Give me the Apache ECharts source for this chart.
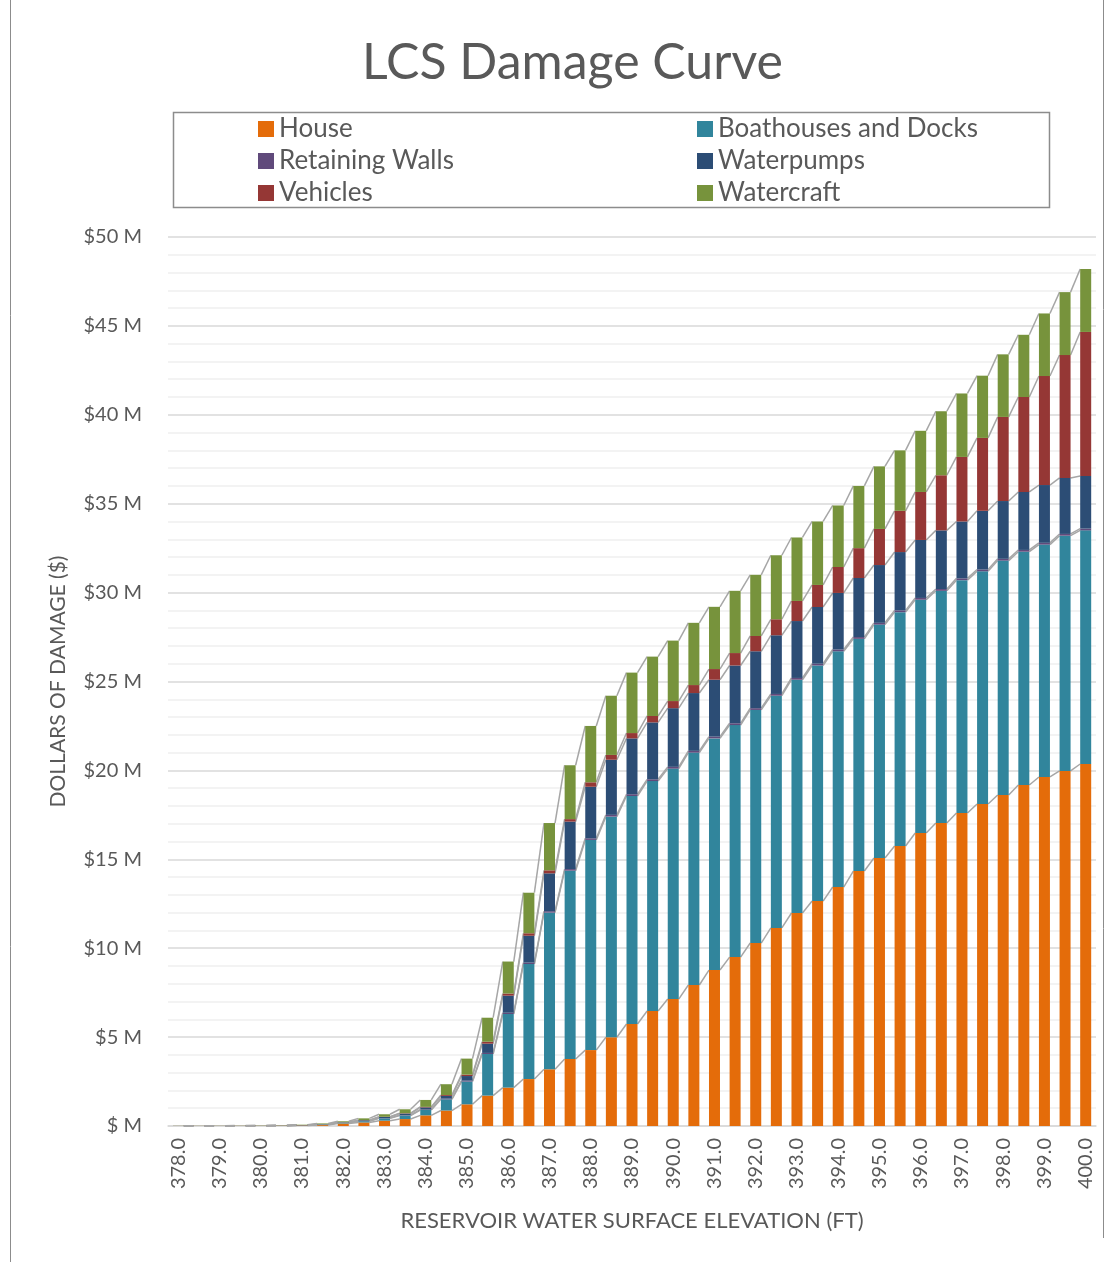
<!DOCTYPE html>
<html>
<head>
<meta charset="utf-8">
<script src="https://cdn.jsdelivr.net/npm/echarts@6/dist/echarts.min.js"></script>
<style>
  html, body { margin: 0; padding: 0; background: #fff; }
  #chart { width: 1113px; height: 1262px; }
</style>
</head>
<body>
<div id="chart"></div>
<script>
// Reservoir elevations (ft), every half foot
const elevations = ['378.0','378.5','379.0','379.5','380.0','380.5','381.0','381.5','382.0','382.5',
  '383.0','383.5','384.0','384.5','385.0','385.5','386.0','386.5','387.0','387.5',
  '388.0','388.5','389.0','389.5','390.0','390.5','391.0','391.5','392.0','392.5',
  '393.0','393.5','394.0','394.5','395.0','395.5','396.0','396.5','397.0','397.5',
  '398.0','398.5','399.0','399.5','400.0'];

// Damage by category, millions of dollars
const house = [0.005,0.006,0.007,0.008,0.010,0.013,0.025,0.05,0.14,0.20,
  0.30,0.39,0.60,0.87,1.22,1.71,2.16,2.64,3.19,3.77,
  4.27,4.99,5.74,6.47,7.14,7.93,8.77,9.50,10.29,11.14,
  11.98,12.65,13.44,14.34,15.07,15.75,16.48,17.04,17.60,18.11,
  18.62,19.18,19.63,19.97,20.36];
const boathouses = [0.003,0.003,0.004,0.005,0.006,0.008,0.015,0.03,0.04,0.07,
  0.13,0.20,0.30,0.63,1.28,2.34,4.14,6.47,8.81,10.59,
  11.82,12.41,12.82,12.93,12.96,13.07,13.03,13.05,13.11,13.06,
  13.12,13.25,13.26,13.06,13.13,13.15,13.12,13.06,13.10,13.09,
  13.18,13.12,13.07,13.23,13.14];
const retainingWalls = [0.001,0.001,0.001,0.001,0.001,0.002,0.003,0.005,0.008,0.01,
  0.015,0.02,0.025,0.04,0.05,0.06,0.07,0.08,0.08,0.09,
  0.09,0.10,0.10,0.10,0.10,0.10,0.10,0.10,0.10,0.10,
  0.10,0.10,0.10,0.10,0.10,0.10,0.10,0.10,0.10,0.10,
  0.10,0.10,0.10,0.10,0.10];
const waterpumps = [0.002,0.002,0.003,0.003,0.004,0.005,0.008,0.015,0.02,0.04,
  0.06,0.09,0.12,0.15,0.26,0.52,0.96,1.51,2.13,2.67,
  2.90,3.10,3.14,3.20,3.30,3.25,3.20,3.25,3.20,3.30,
  3.20,3.19,3.18,3.32,3.25,3.28,3.26,3.30,3.20,3.30,
  3.25,3.26,3.25,3.15,2.96];
const vehicles = [0.001,0.001,0.001,0.001,0.001,0.002,0.003,0.005,0.007,0.01,
  0.015,0.02,0.03,0.05,0.08,0.11,0.12,0.14,0.17,0.14,
  0.25,0.27,0.30,0.36,0.40,0.45,0.60,0.70,0.86,0.90,
  1.13,1.24,1.46,1.68,2.03,2.32,2.70,3.10,3.63,4.10,
  4.73,5.34,6.13,6.91,8.10];
const watercraft = [0.004,0.004,0.005,0.006,0.008,0.010,0.020,0.04,0.05,0.10,
  0.14,0.22,0.39,0.61,0.90,1.35,1.80,2.28,2.66,3.03,
  3.17,3.33,3.40,3.34,3.40,3.50,3.50,3.50,3.44,3.60,
  3.57,3.57,3.46,3.50,3.52,3.40,3.44,3.60,3.57,3.50,
  3.52,3.50,3.52,3.54,3.54];

// Value-axis ticks ($M)
const yTicks = [0, 5, 10, 15, 20, 25, 30, 35, 40, 45, 50];

const seriesDefs = [
  { name: 'House', data: house, color: '#E46C0A' },
  { name: 'Boathouses and Docks', data: boathouses, color: '#31859C' },
  { name: 'Retaining Walls', data: retainingWalls, color: '#604A7B' },
  { name: 'Waterpumps', data: waterpumps, color: '#2C4D75' },
  { name: 'Vehicles', data: vehicles, color: '#953735' },
  { name: 'Watercraft', data: watercraft, color: '#77933C' }
];

const BAR_W = 11;
const FONT = 'Lato, "Open Sans", sans-serif';
const TXT = '#595959';

// Running totals at each stack boundary, used for the connector lines
const cumulative = [];
let running = elevations.map(() => 0);
seriesDefs.forEach(s => {
  running = running.map((v, i) => v + s.data[i]);
  cumulative.push(running.slice());
});

const barSeries = seriesDefs.map(s => ({
  name: s.name,
  type: 'bar',
  stack: 'damage',
  barWidth: BAR_W,
  itemStyle: { color: s.color },
  data: s.data,
  z: 3
}));

// Connector lines from the right edge of each bar's boundary to the left edge of the next
const lineSeries = cumulative.map((levels, k) => ({
  name: 'connector' + k,
  type: 'custom',
  z: 2,
  silent: true,
  encode: { x: [0, 2], y: [1, 3] },
  data: levels.slice(0, -1).map((v, i) => [i, v, i + 1, levels[i + 1]]),
  renderItem: (params, api) => {
    const p1 = api.coord([api.value(0), api.value(1)]);
    const p2 = api.coord([api.value(2), api.value(3)]);
    const hw = BAR_W / 2;
    return {
      type: 'line',
      shape: { x1: p1[0] + hw, y1: p1[1], x2: p2[0] - hw, y2: p2[1] },
      style: { stroke: '#a6a6a6', lineWidth: 1.5 }
    };
  }
}));

const legendText = { fontFamily: FONT, fontSize: 26, color: TXT };

const option = {
  backgroundColor: '#fff',
  animation: false,
  title: {
    text: 'LCS Damage Curve',
    left: 357, top: 33,
    textStyle: { fontFamily: FONT, fontSize: 50, fontWeight: 'normal', color: TXT }
  },
  legend: [
    {
      data: ['House', 'Retaining Walls', 'Vehicles'],
      orient: 'vertical', left: 253, top: 111,
      itemWidth: 16, itemHeight: 16, itemGap: 6,
      icon: 'rect', textStyle: legendText
    },
    {
      data: ['Boathouses and Docks', 'Waterpumps', 'Watercraft'],
      orient: 'vertical', left: 692, top: 111,
      itemWidth: 16, itemHeight: 16, itemGap: 6,
      icon: 'rect', textStyle: legendText
    }
  ],
  graphic: [
    { type: 'rect', shape: { x: 173.5, y: 112.5, width: 876, height: 95 },
      style: { fill: 'none', stroke: '#8c8c8c', lineWidth: 1.5 }, silent: true },
    { type: 'line', shape: { x1: 10.5, y1: 0, x2: 10.5, y2: 1262 },
      style: { stroke: '#8c8c8c', lineWidth: 1 }, silent: true },
    { type: 'line', shape: { x1: 1103.5, y1: 0, x2: 1103.5, y2: 1238 },
      style: { stroke: '#8c8c8c', lineWidth: 1 }, silent: true }
  ],
  grid: { left: 168, right: 17, top: 237, bottom: 136, containLabel: false },
  xAxis: {
    type: 'category',
    data: elevations,
    name: 'RESERVOIR WATER SURFACE ELEVATION (FT)',
    nameLocation: 'middle',
    nameGap: 84,
    nameTextStyle: { fontFamily: FONT, fontSize: 22, color: TXT },
    axisLine: { lineStyle: { color: '#d9d9d9', width: 1.5 } },
    axisTick: { show: false },
    axisLabel: { interval: 1, rotate: 90, margin: 12, fontFamily: FONT, fontSize: 20, color: TXT }
  },
  yAxis: {
    type: 'value',
    min: yTicks[0],
    max: yTicks[yTicks.length - 1],
    interval: yTicks[1] - yTicks[0],
    name: 'DOLLARS OF DAMAGE ($)',
    nameLocation: 'middle',
    nameGap: 99,
    nameTextStyle: { fontFamily: FONT, fontSize: 21, color: TXT },
    axisLine: { show: false },
    axisTick: { show: false },
    axisLabel: {
      margin: 26, fontFamily: FONT, fontSize: 20, color: TXT,
      formatter: v => v === 0 ? '$ M' : '$' + v + ' M'
    },
    splitLine: { lineStyle: { color: '#d9d9d9', width: 1.5 } },
    minorTick: { show: false, splitNumber: 5 },
    minorSplitLine: { show: true, lineStyle: { color: '#efefef', width: 1.5 } }
  },
  series: barSeries.concat(lineSeries)
};

const chart = echarts.init(document.getElementById('chart'), null, { renderer: 'canvas' });
chart.setOption(option);
</script>
</body>
</html>
